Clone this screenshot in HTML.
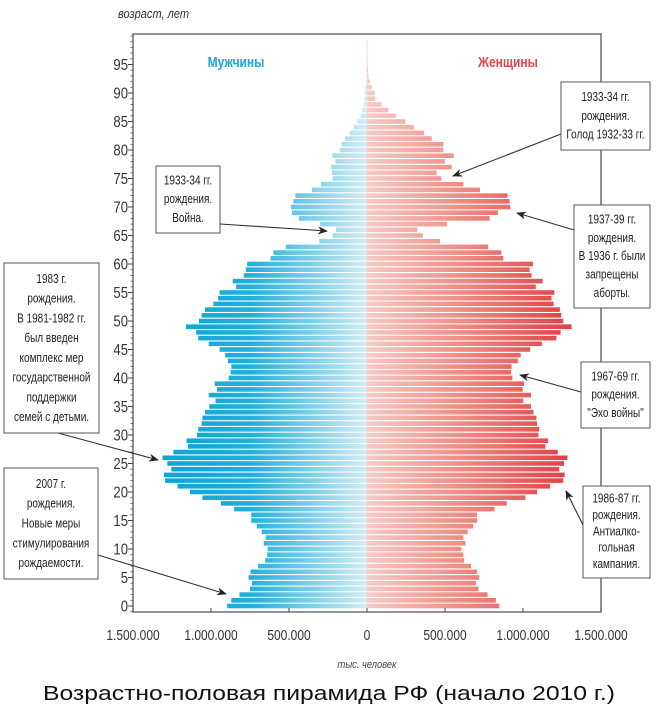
<!DOCTYPE html>
<html><head><meta charset="utf-8">
<style>
html,body{margin:0;padding:0;background:#fff;}
svg{display:block;font-family:"Liberation Sans",sans-serif;}
</style></head>
<body>
<svg id="chart" width="658" height="720" viewBox="0 0 658 720">
<defs>
<linearGradient id="gm" gradientUnits="userSpaceOnUse" x1="133" y1="0" x2="367" y2="0">
<stop offset="0" stop-color="#05a0d2"/><stop offset="0.5" stop-color="#22afdc"/><stop offset="1" stop-color="#d3ecf5"/>
</linearGradient>
<linearGradient id="gf" gradientUnits="userSpaceOnUse" x1="367" y1="0" x2="601" y2="0">
<stop offset="0" stop-color="#f6cbc4"/><stop offset="0.5" stop-color="#eb7d76"/><stop offset="1" stop-color="#dd2833"/>
</linearGradient>
<marker id="ah" markerWidth="10" markerHeight="8" refX="9" refY="4" orient="auto" markerUnits="userSpaceOnUse">
<path d="M0,0 L10,4 L0,8 L3,4 Z" fill="#222"/>
</marker>
</defs>
<g id="bars"></g>
<g id="axes"></g>
<g transform="translate(118,18) scale(0.85,1)"><text x="0" y="0" font-size="13" font-style="italic" fill="#333">возраст, лет</text></g>
<g transform="translate(236,67) scale(0.8,1)"><text x="0" y="0" font-size="15" font-weight="bold" fill="#1aa6d8" text-anchor="middle">Мужчины</text></g>
<g transform="translate(508,67) scale(0.8,1)"><text x="0" y="0" font-size="15" font-weight="bold" fill="#e0454a" text-anchor="middle">Женщины</text></g>
<g transform="translate(367,668) scale(0.85,1)"><text x="0" y="0" font-size="11" font-style="italic" fill="#444" text-anchor="middle">тыс. человек</text></g>
<text x="329" y="700" font-size="20" fill="#111" text-anchor="middle" textLength="572" lengthAdjust="spacingAndGlyphs">Возрастно-половая пирамида РФ (начало 2010 г.)</text>
<g id="notes"></g>
</svg>
<script>
const ages = Array.from({length:100},(_,i)=>i);
const male = [896,870,817,750,737,759,746,698,653,640,636,662,649,675,706,742,742,852,936,1055,1135,1214,1294,1302,1254,1280,1311,1241,1148,1157,1090,1082,1060,1055,1038,1011,971,1015,962,976,887,874,870,892,909,945,1015,1082,1095,1161,1077,1060,1038,985,954,945,839,861,790,777,768,618,600,521,305,221,199,300,437,481,486,472,459,353,296,221,225,230,203,221,172,163,141,110,84,62,40,31,22,18,13,9,4,2,1,1,0,0,0,0];
const female = [848,826,773,715,698,720,706,667,623,618,605,631,618,645,680,706,706,817,896,1015,1090,1174,1258,1267,1232,1263,1285,1223,1143,1161,1099,1104,1090,1086,1068,1051,1002,1051,998,1007,932,923,927,967,985,1046,1121,1214,1241,1311,1258,1245,1236,1196,1183,1201,1082,1126,1055,1042,1064,874,861,777,468,358,322,512,786,839,918,914,901,724,618,477,446,543,499,556,490,490,415,366,300,247,185,137,93,53,49,31,18,10,7,4,3,2,1,1];
const xTicks = [-1500,-1000,-500,0,500,1000,1500];
const xTickLabels = ["1.500.000","1.000.000","500.000","0","500.000","1.000.000","1.500.000"];
const yTicks = [0,5,10,15,20,25,30,35,40,45,50,55,60,65,70,75,80,85,90,95];

const NS="http://www.w3.org/2000/svg";
const X0=367, PX=0.156, LEFT=133, RIGHT=601, TOP=34, BOTTOM=612;
function xs(v){return X0+v*PX;}
function ys(a){return 606-5.7*a;}
function mk(tag,attrs,parent){const e=document.createElementNS(NS,tag);for(const k in attrs)e.setAttribute(k,attrs[k]);parent.appendChild(e);return e;}
function ctext(parent,x,y,str,size,anchor,sx,fill){
  const g=mk('g',{transform:`translate(${x},${y}) scale(${sx},1)`},parent);
  const t=mk('text',{x:0,y:0,'font-size':size,'text-anchor':anchor,fill:fill},g);
  t.textContent=str;
  return t;
}

const bars=document.getElementById('bars');
ages.forEach((a,i)=>{
  const h=4.6, y=ys(a)-h/2;
  const m=male[i]||0, f=female[i]||0;
  const r1=mk('rect',{x:xs(-m),y:y,width:Math.max(0,xs(0)-xs(-m)),height:h,fill:'url(#gm)'},bars);
  
  
  const r2=mk('rect',{x:xs(0),y:y,width:Math.max(0,xs(f)-xs(0)),height:h,fill:'url(#gf)'},bars);
  
  
});

const ax=document.getElementById('axes');
mk('path',{d:`M${LEFT},${TOP} H${RIGHT} V${BOTTOM} H${LEFT} Z`,fill:'none',stroke:'#555','stroke-width':1.3},ax);
mk('line',{x1:X0,y1:40,x2:X0,y2:BOTTOM,stroke:'#f3d6d6','stroke-width':0.8},ax);
for(let a=-1;a<=100;a++){
  const y=ys(a);
  if(y<TOP||y>BOTTOM)continue;
  mk('line',{x1:LEFT-2.5,y1:y,x2:LEFT,y2:y,stroke:'#555','stroke-width':0.8},ax);
}
yTicks.forEach(t=>{
  const y=ys(t);
  mk('line',{x1:LEFT-5,y1:y,x2:LEFT,y2:y,stroke:'#444','stroke-width':1},ax);
  const tx=ctext(ax,LEFT-5,y+5.5,String(t),16,'end',0.82,'#333');
  
  
});
xTicks.forEach((t,i)=>{
  const x=xs(t);
  mk('line',{x1:x,y1:BOTTOM-4,x2:x,y2:BOTTOM,stroke:'#444','stroke-width':1},ax);
  const tx=ctext(ax,x,640,xTickLabels[i],15,'middle',0.8,'#333');
  
  
});

const notes=document.getElementById('notes');
const boxes=[
 {n:'note-war',x:156,y:166,w:64,h:67,lines:['1933-34 гг.','рождения.','Война.'],ax1:220,ay1:224,ax2:327,ay2:231},
 {n:'note-famine',x:561,y:82,w:89,h:68,lines:['1933-34 гг.','рождения.','Голод 1932-33 гг.'],ax1:561,ay1:134,ax2:453,ay2:176},
 {n:'note-abortion-ban',x:574,y:205,w:76,h:103,lines:['1937-39 гг.','рождения.','В 1936 г. были','запрещены','аборты.'],ax1:574,ay1:230,ax2:517,ay2:213},
 {n:'note-war-echo',x:581,y:362,w:69,h:66,lines:['1967-69 гг.','рождения.','"Эхо войны"'],ax1:581,ay1:392,ax2:520,ay2:375},
 {n:'note-antialcohol',x:583,y:486,w:67,h:92,lines:['1986-87 гг.','рождения.','Антиалко-','гольная','кампания.'],ax1:583,ay1:525,ax2:566,ay2:491},
 {n:'note-1983',x:4,y:263,w:95,h:170,lines:['1983 г.','рождения.','В 1981-1982 гг.','был введен','комплекс мер','государственной','поддержки','семей с детьми.'],ax1:58,ay1:433,ax2:158,ay2:460},
 {n:'note-2007',x:4,y:468,w:94,h:111,lines:['2007 г.','рождения.','Новые меры','стимулирования','рождаемости.'],ax1:98,ay1:555,ax2:226,ay2:594}
];
boxes.forEach(b=>{
  const g=mk('g',{},notes);
  
  
  mk('line',{x1:b.ax1,y1:b.ay1,x2:b.ax2,y2:b.ay2,stroke:'#333','stroke-width':1.1,'marker-end':'url(#ah)'},g);
  mk('rect',{x:b.x,y:b.y,width:b.w,height:b.h,fill:'#fff',stroke:'#555','stroke-width':1},g);
  const lh=b.h/(b.lines.length+0.6);
  const top=b.y+(b.h-lh*b.lines.length)/2;
  b.lines.forEach((s,i)=>{
    ctext(g,b.x+b.w/2,top+lh*i+lh*0.7,s,12.5,'middle',0.8,'#222');
  });
});
</script>
</body></html>
